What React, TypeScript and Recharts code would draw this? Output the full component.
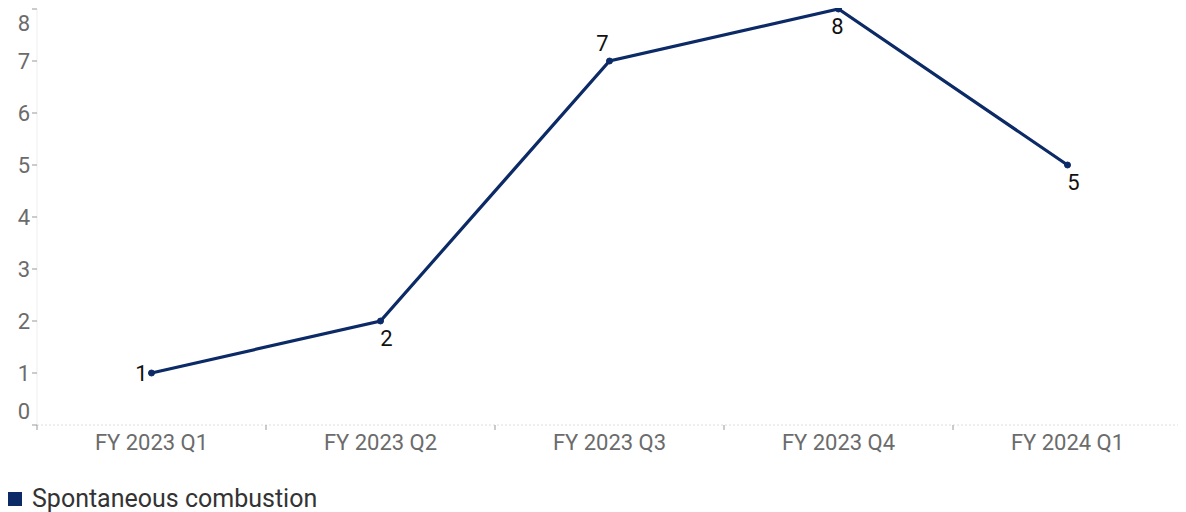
import React from "react";
import { LineChart, Line, XAxis, YAxis, Legend, LabelList } from "recharts";

const categories = ["FY 2023 Q1", "FY 2023 Q2", "FY 2023 Q3", "FY 2023 Q4", "FY 2024 Q1"];
const spontaneousCombustion = [1, 2, 7, 8, 5];
const labelPlacement = ["left", "bottom", "top", "bottom", "bottom"];
const yTicks = [0, 1, 2, 3, 4, 5, 6, 7, 8];
const seriesName = "Spontaneous combustion";

const data = categories.map((c, i) => ({ category: c, value: spontaneousCombustion[i] }));

const COLOR = "#0b2a66";
const FONT = "Roboto, 'Noto Sans', sans-serif";
const WIDTH = 1178;
const HEIGHT = 504;
const YAXIS_W = 29;
const RIGHT = 4;
const BAND = (WIDTH - YAXIS_W - RIGHT) / categories.length;

const XTick = (props: any) => {
  const { x, y, payload, index } = props;
  const left = x - BAND / 2;
  const right = x + BAND / 2;
  return (
    <g>
      <line x1={left} x2={left} y1={y - 8} y2={y - 3} stroke="#999" strokeWidth={1} />
      {index === categories.length - 1 && (
        <line x1={right} x2={right} y1={y - 8} y2={y - 3} stroke="#999" strokeWidth={1} />
      )}
      <text x={x} y={y + 17} textAnchor="middle" fill="#6b6b6b" fontSize={22} fontFamily={FONT}>
        {payload.value}
      </text>
    </g>
  );
};

const YTick = (props: any) => {
  const { x, y, payload } = props;
  let dy = 8;
  if (payload.value === yTicks[0]) dy = -6;
  if (payload.value === yTicks[yTicks.length - 1]) dy = 22;
  return (
    <text x={x} y={y + dy} textAnchor="end" fill="#6b6b6b" fontSize={22} fontFamily={FONT}>
      {payload.value}
    </text>
  );
};

const PointLabel = (props: any) => {
  const { x, y, value, index } = props;
  const place = labelPlacement[index];
  let lx = x;
  let ly = y;
  let anchor: "start" | "middle" | "end" = "middle";
  if (place === "left") {
    lx = x - 4;
    ly = y + 8;
    anchor = "end";
  } else if (place === "top") {
    lx = x - 7;
    ly = y - 10;
  } else {
    lx = x + 6;
    ly = y + 25;
  }
  if (index === 3) lx = x - 1;
  return (
    <text x={lx} y={ly} textAnchor={anchor} fill="#111" fontSize={22} fontFamily={FONT}>
      {value}
    </text>
  );
};

const LegendContent = () => (
  <div style={{ display: "flex", alignItems: "center", fontFamily: FONT, paddingTop: 21 }}>
    <span style={{ display: "inline-block", width: 14, height: 14, background: COLOR, marginRight: 10 }} />
    <span style={{ fontSize: 25, color: "#333", lineHeight: "26px" }}>{seriesName}</span>
  </div>
);

export default function App() {
  return (
    <LineChart
      width={WIDTH}
      height={HEIGHT}
      data={data}
      margin={{ top: 1, right: RIGHT, left: 0, bottom: 0 }}
    >
      <XAxis
        dataKey="category"
        scale="band"
        height={40}
        axisLine={{ stroke: "#ddd", strokeDasharray: "2 2" }}
        tickLine={false}
        tick={<XTick />}
        interval={0}
      />
      <YAxis
        width={YAXIS_W}
        domain={[0, 8]}
        ticks={yTicks}
        interval={0}
        axisLine={{ stroke: "#eee" }}
        tickLine={{ stroke: "#999" }}
        tickSize={5}
        tick={<YTick />}
      />
      <Legend verticalAlign="bottom" align="left" height={47} content={<LegendContent />} />
      <Line
        type="linear"
        dataKey="value"
        name={seriesName}
        stroke={COLOR}
        strokeWidth={3.2}
        dot={{ r: 3, fill: COLOR, stroke: COLOR, strokeWidth: 1 }}
        isAnimationActive={false}
      >
        <LabelList dataKey="value" content={<PointLabel />} />
      </Line>
    </LineChart>
  );
}
